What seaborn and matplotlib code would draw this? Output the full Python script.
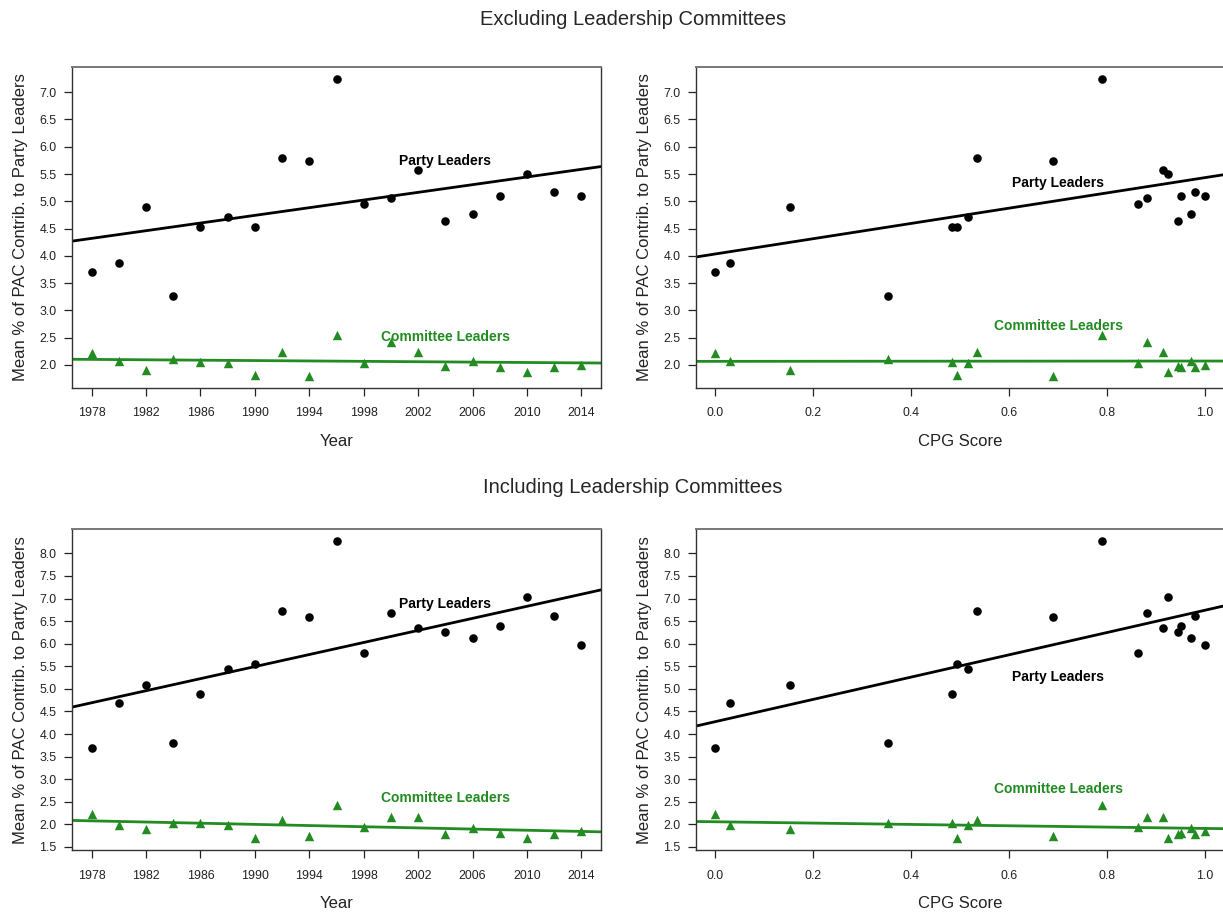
import numpy as np
import pandas as pd
import matplotlib
matplotlib.use("Agg")
import matplotlib.pyplot as plt
import seaborn as sns

# ---------------- data ----------------
years = [1978, 1980, 1982, 1984, 1986, 1988, 1990, 1992, 1994, 1996,
         1998, 2000, 2002, 2004, 2006, 2008, 2010, 2012, 2014]
cpg_score = [0.000, 0.030, 0.153, 0.353, 0.483, 0.515, 0.494, 0.535, 0.690, 0.790,
             0.862, 0.881, 0.915, 0.944, 0.971, 0.951, 0.924, 0.979, 1.000]

party_excl = [3.70, 3.86, 4.89, 3.27, 4.52, 4.71, 4.53, 5.79, 5.74, 7.25,
              4.95, 5.06, 5.58, 4.63, 4.77, 5.09, 5.50, 5.17, 5.10]
committee_excl = [2.21, 2.08, 1.90, 2.10, 2.05, 2.04, 1.81, 2.23, 1.80, 2.54,
                  2.04, 2.42, 2.23, 1.98, 2.07, 1.97, 1.87, 1.97, 2.00]

party_incl = [3.70, 4.69, 5.09, 3.80, 4.89, 5.43, 5.56, 6.72, 6.60, 8.27,
              5.80, 6.68, 6.35, 6.26, 6.12, 6.40, 7.04, 6.61, 5.98]
committee_incl = [2.23, 1.99, 1.89, 2.04, 2.03, 1.98, 1.71, 2.10, 1.74, 2.44,
                  1.94, 2.17, 2.16, 1.79, 1.91, 1.82, 1.69, 1.79, 1.85]

year_ticks = [1978, 1982, 1986, 1990, 1994, 1998, 2002, 2006, 2010, 2014]
cpg_ticks = [0.0, 0.2, 0.4, 0.6, 0.8, 1.0]
y_ticks_excl = [2.0, 2.5, 3.0, 3.5, 4.0, 4.5, 5.0, 5.5, 6.0, 6.5, 7.0]
y_ticks_incl = [1.5, 2.0, 2.5, 3.0, 3.5, 4.0, 4.5, 5.0, 5.5, 6.0, 6.5, 7.0, 7.5, 8.0]

row_titles = ["Excluding Leadership Committees", "Including Leadership Committees"]
y_label = "Mean % of PAC Contrib. to Party Leaders"
x_labels = ["Year", "CPG Score"]
party_label = "Party Leaders"
committee_label = "Committee Leaders"

# ---------------- style ----------------
sns.set_style("ticks")
plt.rcParams["font.family"] = ["Liberation Sans", "DejaVu Sans"]

BLACK = "#000000"
GREEN = "#228B22"

W, H = 1223, 916
fig = plt.figure(figsize=(W / 100, H / 100), dpi=100)

def rrange(vals):
    lo, hi = min(vals), max(vals)
    pad = 0.04 * (hi - lo)
    return lo - pad, hi + pad

# axes rectangles in pixels: left, top, width, height
left_px = [72.0, 695.7]
top_px = [66.7, 529.3]
ax_w, ax_h = 529.0, 321.0

# annotation positions (data coords) per panel
label_pos = {
    (0, 0): ((2004, 5.74), (2004, 2.52)),
    (0, 1): ((0.70, 5.33), (0.70, 2.72)),
    (1, 0): ((2004, 6.87), (2004, 2.58)),
    (1, 1): ((0.70, 5.26), (0.70, 2.78)),
}

rows = [(party_excl, committee_excl, y_ticks_excl),
        (party_incl, committee_incl, y_ticks_incl)]
xs = [(years, year_ticks, lambda v: f"{v:d}"),
      (cpg_score, cpg_ticks, lambda v: f"{v:.1f}")]

for r, (party, committee, yt) in enumerate(rows):
    df = pd.DataFrame({"year": years, "cpg": cpg_score,
                       "party": party, "committee": committee})
    for c, (xv, xt, fmt) in enumerate(xs):
        xcol = "year" if c == 0 else "cpg"
        ax = fig.add_axes([left_px[c] / W, 1 - (top_px[r] + ax_h) / H, ax_w / W, ax_h / H])
        ax.set_xlim(*rrange(xv))
        ax.set_ylim(*rrange(list(party) + list(committee)))

        sns.scatterplot(data=df, x=xcol, y="party", ax=ax, color=BLACK, marker="o",
                        s=38, linewidth=0, zorder=3)
        sns.scatterplot(data=df, x=xcol, y="committee", ax=ax, color=GREEN, marker="^",
                        s=46, linewidth=0, zorder=3)
        sns.regplot(data=df, x=xcol, y="party", ax=ax, scatter=False, ci=None,
                    truncate=False, color=BLACK, line_kws={"linewidth": 2.0, "zorder": 2})
        sns.regplot(data=df, x=xcol, y="committee", ax=ax, scatter=False, ci=None,
                    truncate=False, color=GREEN, line_kws={"linewidth": 2.0, "zorder": 2})
        ax.set_xlim(*rrange(xv))
        ax.set_ylim(*rrange(list(party) + list(committee)))

        (px, py), (cx, cy) = label_pos[(r, c)]
        ax.text(px, py, party_label, color=BLACK, fontsize=10.0, fontweight="bold",
                ha="center", va="center", zorder=4)
        ax.text(cx, cy, committee_label, color=GREEN, fontsize=10.0, fontweight="bold",
                ha="center", va="center", zorder=4)

        ax.set_xticks(xt)
        ax.set_xticklabels([fmt(v) for v in xt])
        ax.set_yticks(yt)
        ax.set_yticklabels([f"{v:.1f}" for v in yt])
        ax.tick_params(axis="both", direction="out", length=5.5, width=0.9,
                       color="#222222", labelsize=8.9, labelcolor="#222222")
        ax.tick_params(axis="x", pad=8.5)
        ax.tick_params(axis="y", pad=5.5)

        ax.set_xlabel(x_labels[c], fontsize=12, color="#222222")
        ax.set_ylabel(y_label, fontsize=12, color="#222222")
        ax.xaxis.set_label_coords(0.5, -0.143)
        ax.yaxis.set_label_coords(-0.083, 0.5)

        for side, sp in ax.spines.items():
            sp.set_visible(True)
            sp.set_linewidth(1.0)
            sp.set_color("#333333")
        ax.spines["top"].set_color("#777777")
        ax.spines["top"].set_linewidth(1.4)
        ax.grid(False)
        ax.set_facecolor("white")

fig.text(633 / W, 1 - 19.5 / H, row_titles[0], ha="center", va="center", fontsize=14.5)
fig.text(633 / W, 1 - 487.5 / H, row_titles[1], ha="center", va="center", fontsize=14.5)

fig.savefig("out.png", dpi=100, facecolor="white")
